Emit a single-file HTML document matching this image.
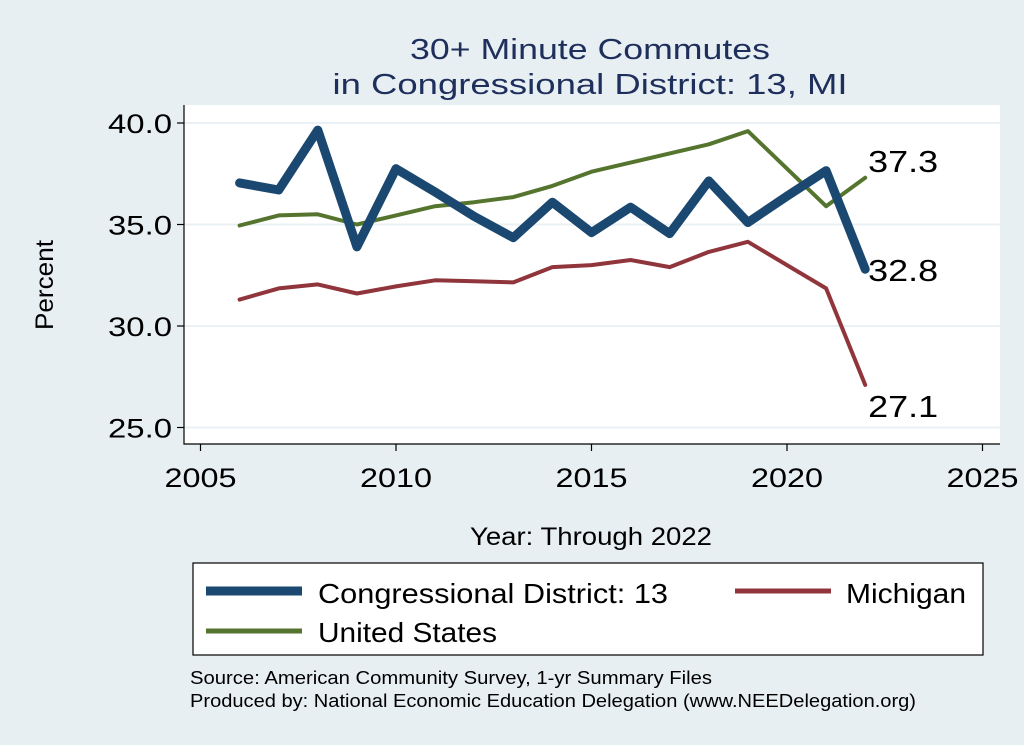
<!DOCTYPE html>
<html><head><meta charset="utf-8"><style>
body{margin:0;background:#e8eff3;}
svg{display:block;font-family:"Liberation Sans",sans-serif;}
</style></head><body>
<svg id="chart" width="1024" height="745">
<rect x="0" y="0" width="1024" height="745" fill="#e8eff3"/>
<text x="590" y="59" text-anchor="middle" font-size="29" fill="#1e2f5c" textLength="360" lengthAdjust="spacingAndGlyphs">30+ Minute Commutes</text>
<text x="590" y="94" text-anchor="middle" font-size="29" fill="#1e2f5c" textLength="515" lengthAdjust="spacingAndGlyphs">in Congressional District:  13, MI</text>
<rect x="184" y="105" width="816" height="339" fill="#fff"/>
<g id="grid"></g>
<g id="axes"></g>
<g id="series"></g>
<text transform="translate(53,285) rotate(-90)" text-anchor="middle" font-size="25" fill="#000" textLength="90" lengthAdjust="spacingAndGlyphs">Percent</text>
<text x="591" y="545" text-anchor="middle" font-size="25" fill="#000" textLength="242" lengthAdjust="spacingAndGlyphs">Year: Through 2022</text>
<g>
<rect x="193" y="563" width="790" height="92" fill="#fff" stroke="#000" stroke-width="1.2"/>
<line x1="206" y1="591" x2="302" y2="591" stroke="#1a4870" stroke-width="9"/>
<text x="318" y="603" font-size="28" textLength="350" lengthAdjust="spacingAndGlyphs">Congressional District:  13</text>
<line x1="735" y1="591" x2="831" y2="591" stroke="#90353b" stroke-width="5"/>
<text x="846" y="603" font-size="28" textLength="120" lengthAdjust="spacingAndGlyphs">Michigan</text>
<line x1="206" y1="631" x2="302" y2="631" stroke="#55752f" stroke-width="5"/>
<text x="318" y="642" font-size="28" textLength="179" lengthAdjust="spacingAndGlyphs">United States</text>
</g>
<text x="190" y="684" font-size="18" textLength="522" lengthAdjust="spacingAndGlyphs">Source: American Community Survey, 1-yr Summary Files</text>
<text x="190" y="707" font-size="18" textLength="726" lengthAdjust="spacingAndGlyphs">Produced by: National Economic Education Delegation (www.NEEDelegation.org)</text>
</svg>
<script>
const years=[2006,2007,2008,2009,2010,2011,2012,2013,2014,2015,2016,2017,2018,2019,2020,2021,2022];
const districtVals=[37.05,36.7,39.65,33.9,37.75,36.6,35.4,34.35,36.1,34.6,35.85,34.55,37.15,35.1,36.4,37.65,32.8];
const michiganVals=[31.3,31.85,32.05,31.6,31.95,32.25,32.2,32.15,32.9,33.0,33.25,32.9,33.65,34.15,33.0,31.85,27.1];
const usVals=[34.95,35.45,35.5,35.0,35.45,35.9,36.1,36.35,36.9,37.6,38.05,38.5,38.95,39.6,37.75,35.9,37.3];
const yTicks=[25,30,35,40];
const xTicks=[2005,2010,2015,2020,2025];
const endLabels=["32.8","27.1","37.3"];
const NS="http://www.w3.org/2000/svg";
function xs(v){return 200.5+(v-2005)*39.1;}
function ys(v){return 427.5-(v-25)*20.3;}
function mk(tag,attrs,parent){const e=document.createElementNS(NS,tag);for(const k in attrs)e.setAttribute(k,attrs[k]);parent.appendChild(e);return e;}
const grid=document.getElementById('grid'),axes=document.getElementById('axes'),ser=document.getElementById('series');
yTicks.forEach(t=>{
 const g=mk('line',{x1:184,x2:1000,y1:ys(t),y2:ys(t),stroke:'#eaf0f3','stroke-width':2},grid);
 
 
 const tk=mk('line',{x1:177,x2:184,y1:ys(t),y2:ys(t),stroke:'#000','stroke-width':1.2},axes);
 
 
 const tl=mk('text',{x:172,y:ys(t)+10,'text-anchor':'end','font-size':27,textLength:64,lengthAdjust:'spacingAndGlyphs'},axes);
 tl.textContent=t.toFixed(1);
 
 
});
xTicks.forEach(t=>{
 const tk=mk('line',{x1:xs(t),x2:xs(t),y1:444,y2:451,stroke:'#000','stroke-width':1.2},axes);
 
 
 const tl=mk('text',{x:xs(t),y:487,'text-anchor':'middle','font-size':27,textLength:72,lengthAdjust:'spacingAndGlyphs'},axes);
 tl.textContent=t;
 
 
});
const ax=mk('path',{d:'M184,105 V444 H1000',fill:'none',stroke:'#000','stroke-width':1.2},axes);


function line(vals,color,w,name){
 const d=vals.map((v,i)=>(i?'L':'M')+xs(years[i]).toFixed(1)+','+ys(v).toFixed(1)).join(' ');
 const p=mk('path',{d:d,fill:'none',stroke:color,'stroke-width':w,'stroke-linejoin':'round','stroke-linecap':'round'},ser);
 
 
}
line(michiganVals,'#90353b',4,'line-michigan');
line(usVals,'#55752f',4,'line-us');
line(districtVals,'#1a4870',9,'line-district');
const last=years.length-1;
[[districtVals,endLabels[0],12],[michiganVals,endLabels[1],32],[usVals,endLabels[2],-6]].forEach(([vals,txt,dy])=>{
 const t=mk('text',{x:xs(years[last])+3,y:ys(vals[last])+dy,'font-size':31,textLength:70,lengthAdjust:'spacingAndGlyphs'},ser);
 t.textContent=txt;
 
 
});
</script>
</body></html>
